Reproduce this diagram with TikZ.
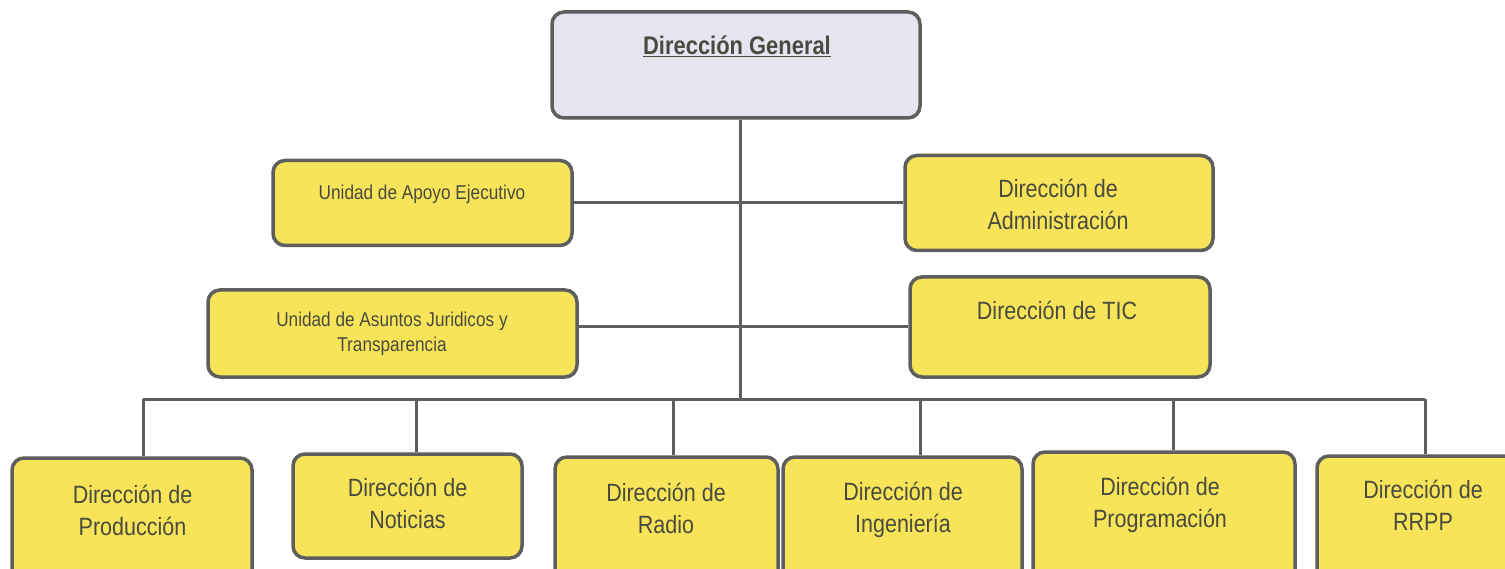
\documentclass[tikz,border=0pt]{standalone}
\usepackage{fontspec}
\setmainfont{Liberation Sans}[FakeStretch=0.86]
\usepackage{tikz}

\definecolor{boxfill}{RGB}{247,228,88}
\definecolor{topfill}{RGB}{229,229,240}
\definecolor{linegray}{RGB}{94,94,94}
\definecolor{txtgray}{RGB}{74,74,64}

\begin{document}
\begin{tikzpicture}[x=1pt,y=-1pt]
	\tikzstyle{unit} = [draw=linegray,line width=3.5pt,fill=boxfill,rounded corners=12pt,inner sep=0pt]
	\tikzstyle{lbl} = [text=txtgray,font=\fontsize{25}{32}\selectfont,align=center,anchor=base,inner sep=0pt]
	\tikzstyle{small} = [text=txtgray,font=\fontsize{20}{25}\selectfont,align=center,anchor=base,inner sep=0pt]
	\tikzstyle{wire} = [draw=linegray,line width=3pt]
	
	\useasboundingbox (0,0) rectangle (1505,569);
	
	% boxes
	\node[unit,fill=topfill,minimum width=368pt,minimum height=106pt] (dg) at (736,65) {};
	\node[unit,minimum width=299pt,minimum height=85pt] (apoyo) at (422.5,203) {};
	\node[unit,minimum width=369pt,minimum height=87pt] (asuntos) at (392.5,333.5) {};
	\node[unit,minimum width=308pt,minimum height=95pt] (admin) at (1059,203) {};
	\node[unit,minimum width=300pt,minimum height=100pt] (tic) at (1060,327) {};
	
	\node[unit,minimum width=240pt,minimum height=127pt] (prod) at (132,521.5) {};
	\node[unit,minimum width=229pt,minimum height=104pt] (noti) at (407.5,506) {};
	\node[unit,minimum width=223pt,minimum height=128pt] (radio) at (666.5,521) {};
	\node[unit,minimum width=239pt,minimum height=128pt] (ingen) at (902.5,521) {};
	\node[unit,minimum width=262pt,minimum height=133pt] (progr) at (1164,518.5) {};
	\node[unit,minimum width=213pt,minimum height=129pt] (rrpp) at (1423.5,520.5) {};
	
	% texts
	\node[lbl,font=\fontsize{25.5}{32}\selectfont\bfseries] (dg-t) at (737,55) {\underline{Dirección General}};
	\node[small] (apoyo-t) at (422,200) {Unidad de Apoyo Ejecutivo};
	\node[small] (asuntos-t) at (392,352) {Unidad de Asuntos Juridicos y\\Transparencia};
	\node[lbl] (admin-t) at (1058,230) {Dirección de\\Administración};
	\node[lbl] (tic-t) at (1057,320) {Dirección de TIC};
	
	\node[lbl] (prod-t) at (132.5,535) {Dirección de\\Producción};
	\node[lbl] (noti-t) at (407.5,528) {Dirección de\\Noticias};
	\node[lbl] (radio-t) at (666,533) {Dirección de\\Radio};
	\node[lbl] (ingen-t) at (903,532) {Dirección de\\Ingeniería};
	\node[lbl] (progr-t) at (1160,527) {Dirección de\\Programación};
	\node[lbl] (rrpp-t) at (1423,530) {Dirección de\\RRPP};
	
	% lines
	\coordinate (hub) at (740,400);
	\path[wire] (dg.south -| hub) -- (hub);
	\path[wire] (apoyo.east |- admin.west) -- (admin.west);
	\path[wire] (asuntos.east |- tic.west) -- (tic.west);
	
	\coordinate (b-prod) at (143,399);
	\coordinate (b-noti) at (416,399);
	\coordinate (b-radio) at (673,399);
	\coordinate (b-ingen) at (920,399);
	\coordinate (b-progr) at (1173,399);
	\coordinate (b-rrpp) at (1425,399);
	\path[wire] (b-prod) -- (b-rrpp);
	\foreach \n in {prod,noti,radio,ingen,progr,rrpp}
		\path[wire] (b-\n) -- (b-\n |- \n.north);
\end{tikzpicture}
\end{document}
